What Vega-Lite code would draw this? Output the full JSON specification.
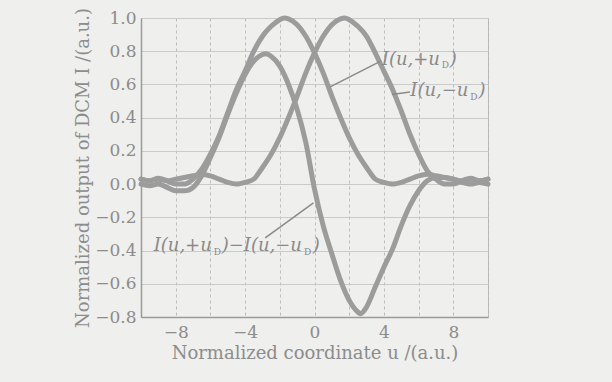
{
  "$schema": "https://vega.github.io/schema/vega-lite/v6.json",
  "width": 347,
  "height": 299,
  "autosize": {"type": "none"},
  "padding": {"left": 141, "top": 18, "right": 124, "bottom": 65},
  "background": "#efefed",
  "config": {
    "view": {"stroke": "#b5b5b5", "strokeWidth": 1},
    "font": "DejaVu Serif",
    "axis": {
      "labelFont": "DejaVu Serif",
      "titleFont": "DejaVu Serif",
      "labelColor": "#8c8c8c",
      "titleColor": "#8c8c8c",
      "titleFontWeight": "normal",
      "ticks": false,
      "labelOverlap": false,
      "tickCount": 30,
      "domainColor": "#9a9a9a",
      "domainWidth": 1.5
    }
  },
  "datasets": {
    "curves": [
      {"s": "plus", "u": -10, "v": 0.03}, {"s": "plus", "u": -9.5, "v": 0.02}, {"s": "plus", "u": -9, "v": 0.035}, {"s": "plus", "u": -8.5, "v": 0.02}, {"s": "plus", "u": -8, "v": 0.0}, {"s": "plus", "u": -7.5, "v": 0.0}, {"s": "plus", "u": -7, "v": 0.03}, {"s": "plus", "u": -6.5, "v": 0.09}, {"s": "plus", "u": -6, "v": 0.18}, {"s": "plus", "u": -5.5, "v": 0.29}, {"s": "plus", "u": -5, "v": 0.43}, {"s": "plus", "u": -4.5, "v": 0.57}, {"s": "plus", "u": -4, "v": 0.68}, {"s": "plus", "u": -3.5, "v": 0.8}, {"s": "plus", "u": -3, "v": 0.89}, {"s": "plus", "u": -2.5, "v": 0.95}, {"s": "plus", "u": -2, "v": 0.99}, {"s": "plus", "u": -1.75, "v": 1.0}, {"s": "plus", "u": -1.5, "v": 0.995}, {"s": "plus", "u": -1, "v": 0.96}, {"s": "plus", "u": -0.5, "v": 0.89}, {"s": "plus", "u": 0, "v": 0.79}, {"s": "plus", "u": 0.5, "v": 0.67}, {"s": "plus", "u": 1, "v": 0.53}, {"s": "plus", "u": 1.5, "v": 0.4}, {"s": "plus", "u": 2, "v": 0.28}, {"s": "plus", "u": 2.5, "v": 0.18}, {"s": "plus", "u": 3, "v": 0.1}, {"s": "plus", "u": 3.5, "v": 0.03}, {"s": "plus", "u": 4, "v": 0.01}, {"s": "plus", "u": 4.5, "v": 0.0}, {"s": "plus", "u": 5, "v": 0.01}, {"s": "plus", "u": 5.5, "v": 0.03}, {"s": "plus", "u": 6, "v": 0.05}, {"s": "plus", "u": 6.5, "v": 0.06}, {"s": "plus", "u": 7, "v": 0.05}, {"s": "plus", "u": 7.5, "v": 0.04}, {"s": "plus", "u": 8, "v": 0.03}, {"s": "plus", "u": 8.5, "v": 0.02}, {"s": "plus", "u": 9, "v": 0.03}, {"s": "plus", "u": 9.5, "v": 0.02}, {"s": "plus", "u": 10, "v": 0.03},
      {"s": "minus", "u": -10, "v": 0.03}, {"s": "minus", "u": -9.5, "v": 0.02}, {"s": "minus", "u": -9, "v": 0.03}, {"s": "minus", "u": -8.5, "v": 0.02}, {"s": "minus", "u": -8, "v": 0.03}, {"s": "minus", "u": -7.5, "v": 0.04}, {"s": "minus", "u": -7, "v": 0.05}, {"s": "minus", "u": -6.5, "v": 0.06}, {"s": "minus", "u": -6, "v": 0.05}, {"s": "minus", "u": -5.5, "v": 0.03}, {"s": "minus", "u": -5, "v": 0.01}, {"s": "minus", "u": -4.5, "v": 0.0}, {"s": "minus", "u": -4, "v": 0.01}, {"s": "minus", "u": -3.5, "v": 0.03}, {"s": "minus", "u": -3, "v": 0.1}, {"s": "minus", "u": -2.5, "v": 0.18}, {"s": "minus", "u": -2, "v": 0.28}, {"s": "minus", "u": -1.5, "v": 0.4}, {"s": "minus", "u": -1, "v": 0.53}, {"s": "minus", "u": -0.5, "v": 0.67}, {"s": "minus", "u": 0, "v": 0.79}, {"s": "minus", "u": 0.5, "v": 0.89}, {"s": "minus", "u": 1, "v": 0.96}, {"s": "minus", "u": 1.5, "v": 0.995}, {"s": "minus", "u": 1.75, "v": 1.0}, {"s": "minus", "u": 2, "v": 0.99}, {"s": "minus", "u": 2.5, "v": 0.95}, {"s": "minus", "u": 3, "v": 0.89}, {"s": "minus", "u": 3.5, "v": 0.79}, {"s": "minus", "u": 4, "v": 0.68}, {"s": "minus", "u": 4.5, "v": 0.57}, {"s": "minus", "u": 5, "v": 0.44}, {"s": "minus", "u": 5.5, "v": 0.3}, {"s": "minus", "u": 6, "v": 0.18}, {"s": "minus", "u": 6.5, "v": 0.08}, {"s": "minus", "u": 7, "v": 0.03}, {"s": "minus", "u": 7.5, "v": 0.0}, {"s": "minus", "u": 8, "v": 0.0}, {"s": "minus", "u": 8.5, "v": 0.02}, {"s": "minus", "u": 9, "v": 0.035}, {"s": "minus", "u": 9.5, "v": 0.02}, {"s": "minus", "u": 10, "v": 0.03},
      {"s": "diff", "u": -10, "v": 0.0}, {"s": "diff", "u": -9.5, "v": -0.01}, {"s": "diff", "u": -9, "v": 0.0}, {"s": "diff", "u": -8.5, "v": -0.02}, {"s": "diff", "u": -8, "v": -0.04}, {"s": "diff", "u": -7.5, "v": -0.04}, {"s": "diff", "u": -7, "v": -0.02}, {"s": "diff", "u": -6.5, "v": 0.05}, {"s": "diff", "u": -6, "v": 0.16}, {"s": "diff", "u": -5.5, "v": 0.28}, {"s": "diff", "u": -5, "v": 0.42}, {"s": "diff", "u": -4.5, "v": 0.55}, {"s": "diff", "u": -4, "v": 0.66}, {"s": "diff", "u": -3.5, "v": 0.74}, {"s": "diff", "u": -3, "v": 0.78}, {"s": "diff", "u": -2.8, "v": 0.785}, {"s": "diff", "u": -2.5, "v": 0.77}, {"s": "diff", "u": -2, "v": 0.71}, {"s": "diff", "u": -1.5, "v": 0.6}, {"s": "diff", "u": -1, "v": 0.45}, {"s": "diff", "u": -0.5, "v": 0.25}, {"s": "diff", "u": 0, "v": -0.03}, {"s": "diff", "u": 0.5, "v": -0.25}, {"s": "diff", "u": 1, "v": -0.42}, {"s": "diff", "u": 1.5, "v": -0.58}, {"s": "diff", "u": 2, "v": -0.7}, {"s": "diff", "u": 2.5, "v": -0.77}, {"s": "diff", "u": 2.65, "v": -0.78}, {"s": "diff", "u": 3, "v": -0.74}, {"s": "diff", "u": 3.5, "v": -0.62}, {"s": "diff", "u": 4, "v": -0.5}, {"s": "diff", "u": 4.5, "v": -0.39}, {"s": "diff", "u": 5, "v": -0.25}, {"s": "diff", "u": 5.5, "v": -0.13}, {"s": "diff", "u": 6, "v": -0.04}, {"s": "diff", "u": 6.5, "v": 0.02}, {"s": "diff", "u": 7, "v": 0.04}, {"s": "diff", "u": 7.5, "v": 0.04}, {"s": "diff", "u": 8, "v": 0.03}, {"s": "diff", "u": 8.5, "v": 0.01}, {"s": "diff", "u": 9, "v": 0.0}, {"s": "diff", "u": 9.5, "v": 0.01}, {"s": "diff", "u": 10, "v": 0.0}
    ],
    "pointers": [
      {"u": 3.82, "v": 0.74, "u2": 0.9, "v2": 0.585},
      {"u": 5.5, "v": 0.555, "u2": 4.46, "v2": 0.54},
      {"u": -2.84, "v": -0.324, "u2": -0.06, "v2": -0.113}
    ],
    "maintext": [
      {"t": "I(u,+u", "u": 3.88, "v": 0.75},
      {"t": ")", "u": 7.8, "v": 0.75},
      {"t": "I(u,−u", "u": 5.52, "v": 0.56},
      {"t": ")", "u": 9.45, "v": 0.56},
      {"t": "I(u,+u", "u": -9.27, "v": -0.375},
      {"t": ")−I(u,−u", "u": -5.35, "v": -0.375},
      {"t": ")", "u": -0.1, "v": -0.375}
    ],
    "subtext": [
      {"t": "D", "u": 7.33, "v": 0.715},
      {"t": "D", "u": 8.98, "v": 0.525},
      {"t": "D", "u": -5.8, "v": -0.41},
      {"t": "D", "u": -0.6, "v": -0.41}
    ]
  },
  "layer": [
    {
      "data": {"name": "curves"},
      "mark": {"type": "line", "color": "#9c9c9c", "strokeWidth": 5, "strokeCap": "round", "strokeJoin": "round", "interpolate": "monotone"},
      "encoding": {
        "x": {
          "field": "u", "type": "quantitative",
          "scale": {"domain": [-10, 10], "nice": false, "zero": false},
          "axis": {
            "values": [-10, -8, -6, -4, -2, 0, 2, 4, 6, 8, 10],
            "tickCount": 30,
            "format": "d",
            "labelExpr": "(datum.value % 4 === 0 && abs(datum.value) < 10) ? format(datum.value, 'd') : ''",
            "grid": true, "gridDash": [3, 3], "gridColor": "#bcbcbc", "gridWidth": 1,
            "labelFontSize": 17, "labelPadding": 7,
            "title": "Normalized coordinate  u /(a.u.)", "titleFontSize": 18, "titlePadding": 4
          }
        },
        "y": {
          "field": "v", "type": "quantitative",
          "scale": {"domain": [-0.8, 1.0], "nice": false, "zero": false},
          "axis": {
            "values": [-0.8, -0.6, -0.4, -0.2, 0, 0.2, 0.4, 0.6, 0.8, 1.0],
            "tickCount": 30,
            "format": ".1f",
            "grid": true, "gridColor": "#cacaca", "gridWidth": 1,
            "labelFontSize": 17, "labelPadding": 5,
            "title": "Normalized output of DCM I /(a.u.)", "titleFontSize": 18, "titlePadding": 2
          }
        },
        "detail": {"field": "s"}
      }
    },
    {
      "data": {"name": "pointers"},
      "mark": {"type": "rule", "color": "#8a8a8a", "strokeWidth": 1.5},
      "encoding": {
        "x": {"field": "u", "type": "quantitative"},
        "y": {"field": "v", "type": "quantitative"},
        "x2": {"field": "u2"},
        "y2": {"field": "v2"}
      }
    },
    {
      "data": {"name": "maintext"},
      "mark": {"type": "text", "font": "DejaVu Serif", "fontStyle": "italic", "fontSize": 18, "align": "left", "baseline": "middle", "color": "#8a8a8a"},
      "encoding": {
        "x": {"field": "u", "type": "quantitative"},
        "y": {"field": "v", "type": "quantitative"},
        "text": {"field": "t"}
      }
    },
    {
      "data": {"name": "subtext"},
      "mark": {"type": "text", "font": "DejaVu Serif", "fontSize": 9, "align": "left", "baseline": "middle", "color": "#8a8a8a"},
      "encoding": {
        "x": {"field": "u", "type": "quantitative"},
        "y": {"field": "v", "type": "quantitative"},
        "text": {"field": "t"}
      }
    }
  ]
}
